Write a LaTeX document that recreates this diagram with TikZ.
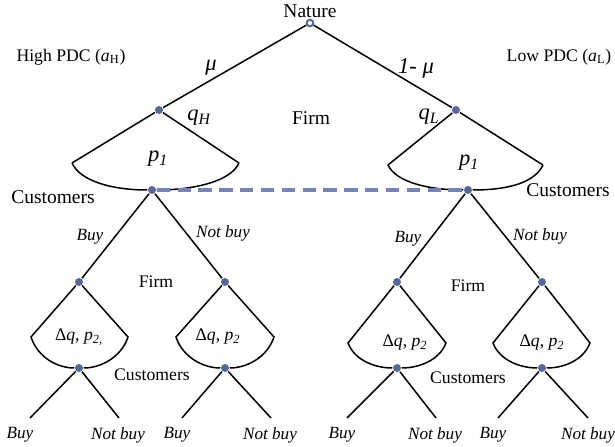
\documentclass[tikz,border=0pt]{standalone}
\usepackage{fontspec}
\setmainfont{Liberation Serif}
\definecolor{dotblue}{HTML}{5A6794}
\definecolor{dashblue}{HTML}{7683B5}
\begin{document}
\begin{tikzpicture}[x=0.6pt, y=-0.6pt, line width=0.9pt,
    dot/.style={circle, fill=dotblue, inner sep=0pt, minimum size=4.8pt},
    opendot/.style={circle, draw=dotblue, fill=white, line width=1.2pt, inner sep=0pt, minimum size=4pt},
    big/.style={font=\fontsize{11.7}{14}\selectfont},
    mlab/.style={font=\fontsize{13.5}{15}\selectfont\itshape},
    small/.style={font=\fontsize{10.6}{12}\selectfont},
    act/.style={font=\fontsize{10.3}{12}\selectfont\itshape}]
    \useasboundingbox (0,0) rectangle (615,447);

    % Nature and the two firm types
    \node (nat) [opendot] at (310,23) {};
    \node (fH) [dot] at (159,110) {};
    \node (fL) [dot] at (456,110) {};
    \coordinate (fHl) at (72,163);
    \coordinate (fHr) at (239,163);
    \coordinate (fLl) at (388,165);
    \coordinate (fLr) at (543,165);
    \node (cH) [dot] at (152,190) {};
    \node (cL) [dot] at (468,190) {};

    \draw (nat) -- (fH) -- (fHl);
    \draw (fH) -- (fHr);
    \draw (nat) -- (fL) -- (fLr);
    \draw (fL) -- (fLl);
    \draw (fHl) .. controls (80,181) and (112,190) .. (cH.west);
    \draw (cH.east) .. controls (195,190) and (231,181) .. (fHr);
    \draw (fLl) .. controls (396,182) and (428,190) .. (cL.west);
    \draw (cL.east) .. controls (510,190) and (535,182) .. (fLr);
    \draw [dashblue, line width=2pt, dash pattern=on 8pt off 4.5pt] (cH) -- (cL);

    \node [big] at (310,11) {Nature};
    \node [small] at (71,57) {High PDC (\textit{a}\textsubscript{H})};
    \node [small] at (559,57) {Low PDC (\textit{a}\textsubscript{L})};
    \node [mlab] at (211,68) {μ};
    \node [mlab] at (416,68) {1- μ};
    \node [mlab] at (199,118) {q\textsubscript{H}};
    \node [mlab] at (429,117) {q\textsubscript{L}};
    \node [big] at (311,118) {Firm};
    \node [mlab] at (158,159) {p\textsubscript{1}};
    \node [mlab] at (469,163) {p\textsubscript{1}};
    \node [big] at (53,197) {Customers};
    \node [big] at (568,190) {Customers};

    % Second period, high type
    \node (fa) [dot] at (79,282) {};
    \node (fb) [dot] at (225,282) {};
    \node (ca) [dot] at (79,368) {};
    \node (cb) [dot] at (225,368) {};
    \draw (cH) -- (fa);
    \draw (cH) -- (fb);
    \draw (fa) -- (31,337) .. controls (38,358) and (58,368) .. (ca.west);
    \draw (ca.east) .. controls (100,368) and (121,358) .. (128,337) -- (fa);
    \draw (fb) -- (176,337) .. controls (183,358) and (204,368) .. (cb.west);
    \draw (cb.east) .. controls (246,368) and (267,358) .. (274,337) -- (fb);
    \draw (ca) -- (30,418);
    \draw (ca) -- (119,418);
    \draw (cb) -- (182,418);
    \draw (cb) -- (271,418);

    \node [act] at (90,237) {Buy};
    \node [act] at (223,233) {Not buy};
    \node [small] at (156,282) {Firm};
    \node [small] at (79,337) {Δ\textit{q}, \textit{p}\textsubscript{\textit{2,}}};
    \node [small] at (218,337) {Δ\textit{q}, \textit{p}\textsubscript{\textit{2}}};
    \node [small] at (152,375) {Customers};
    \node [act] at (20,435) {Buy};
    \node [act] at (118,435) {Not buy};
    \node [act] at (177,435) {Buy};
    \node [act] at (270,435) {Not buy};

    % Second period, low type
    \node (fc) [dot] at (397,282) {};
    \node (fd) [dot] at (542,282) {};
    \node (cc) [dot] at (397,368) {};
    \node (cd) [dot] at (542,368) {};
    \draw (cL) -- (fc);
    \draw (cL) -- (fd);
    \draw (fc) -- (348,343) .. controls (355,361) and (376,368) .. (cc.west);
    \draw (cc.east) .. controls (418,368) and (439,361) .. (446,343) -- (fc);
    \draw (fd) -- (493,343) .. controls (500,361) and (521,368) .. (cd.west);
    \draw (cd.east) .. controls (563,368) and (583,361) .. (590,343) -- (fd);
    \draw (cc) -- (347,418);
    \draw (cc) -- (436,418);
    \draw (cd) -- (498,418);
    \draw (cd) -- (588,418);

    \node [act] at (408,239) {Buy};
    \node [act] at (540,236) {Not buy};
    \node [small] at (468,286) {Firm};
    \node [small] at (405,343) {Δ\textit{q}, \textit{p}\textsubscript{\textit{2}}};
    \node [small] at (542,343) {Δ\textit{q}, \textit{p}\textsubscript{\textit{2}}};
    \node [small] at (468,378) {Customers};
    \node [act] at (342,435) {Buy};
    \node [act] at (435,435) {Not buy};
    \node [act] at (493,435) {Buy};
    \node [act] at (588,435) {Not buy};
\end{tikzpicture}
\end{document}
